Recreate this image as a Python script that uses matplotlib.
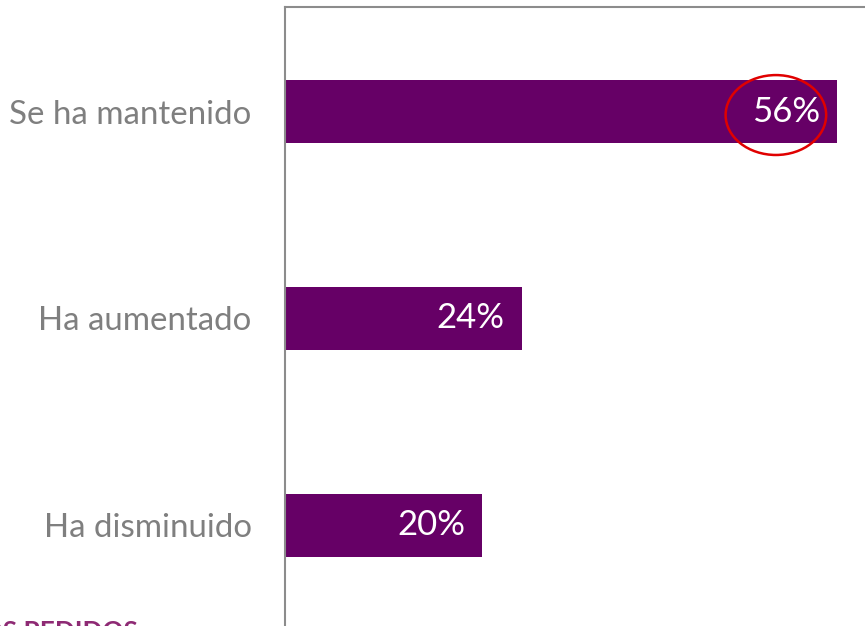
import numpy as np
import matplotlib.pyplot as plt
from matplotlib.patches import Ellipse

categories = ['Se ha mantenido', 'Ha aumentado', 'Ha disminuido']
values = [56, 24, 20]
value_labels = ['56%', '24%', '20%']

plt.rcParams['font.family'] = ['Lato', 'DejaVu Sans']

fig = plt.figure(figsize=(8.65, 6.26), dpi=100)
ax = fig.add_axes([285 / 865, 0, 1 - 285 / 865, 1 - 7 / 626])

y = np.arange(len(categories))
ax.barh(y, values, height=0.305, color='#660066')
ax.set_ylim(2.486, -0.505)
ax.set_xlim(0, 58.84)

ax.set_yticks(y)
ax.set_yticklabels(categories, fontsize=23.8, color='#7f7f7f')
ax.tick_params(axis='y', length=0, pad=24)
ax.set_xticks([])

for i, v in enumerate(values):
    ax.text(v - 1.7, i, value_labels[i], color='white', fontsize=25,
            ha='right', va='center')

# red circle around the top value
ax.add_patch(Ellipse((values[0] - 6.2, 0.017), 10.2, 0.386, fill=False,
                     edgecolor='#e00000', lw=1.8, clip_on=False))

for s in ['right', 'bottom']:
    ax.spines[s].set_visible(False)
for s in ['left', 'top']:
    ax.spines[s].set_color('#8c8c8c')
    ax.spines[s].set_linewidth(1.5)

fig.text(138 / 865, 1 - 620 / 626, 'LOS PEDIDOS', color='#8e2a74', fontsize=18.8,
         fontweight='bold', ha='right', va='top')

fig.savefig('out.png', dpi=100)
